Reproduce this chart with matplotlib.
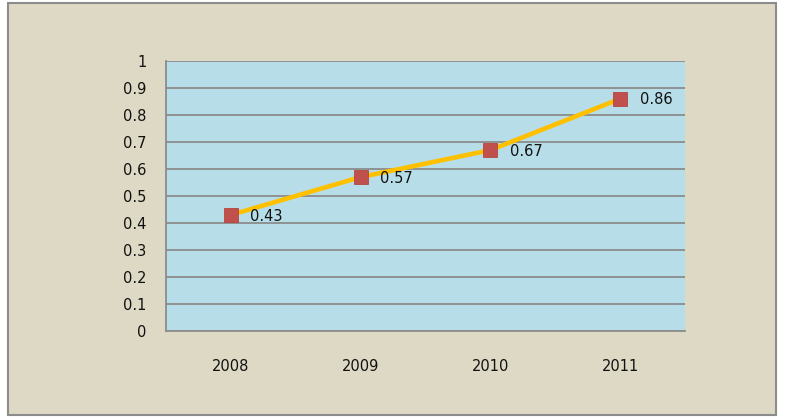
import matplotlib
matplotlib.use("Agg")
import matplotlib.pyplot as plt
from matplotlib.patches import Rectangle

years = ["2008", "2009", "2010", "2011"]
values = [0.43, 0.57, 0.67, 0.86]
yticks = [0, 0.1, 0.2, 0.3, 0.4, 0.5, 0.6, 0.7, 0.8, 0.9, 1]
ytick_labels = ["0", "0.1", "0.2", "0.3", "0.4", "0.5", "0.6", "0.7", "0.8", "0.9", "1"]

W, H = 790, 420
fig = plt.figure(figsize=(W / 100, H / 100), dpi=100)
fig.patch.set_facecolor("white")

FONT = "DejaVu Sans"
FS = 10.5

# chart frame
frame = Rectangle((8 / W, 5 / H), (776 - 8) / W, (417 - 5) / H,
                  transform=fig.transFigure, facecolor="#DDD9C4",
                  edgecolor="#8C8C8C", linewidth=1.5, zorder=-10)
fig.patches.append(frame)

ax = fig.add_axes([166 / W, (H - 331) / H, (685 - 166) / W, (331 - 61) / H])
ax.set_zorder(1)
ax.set_facecolor("#B7DEE8")

x = list(range(len(years)))
ax.plot(x, values, color="#FFC000", linewidth=3.3, zorder=3, solid_capstyle="round")
ax.plot(x, values, linestyle="none", marker="s", markersize=10,
        markerfacecolor="#C0504D", markeredgecolor="#B5453F", markeredgewidth=0.6, zorder=4)
for xi, v in zip(x, values):
    ax.annotate(f"{v:.2f}", (xi, v), xytext=(14, -0.8), textcoords="offset points",
                ha="left", va="center", fontsize=FS, color="#111111",
                family=FONT, zorder=5)

ax.set_xlim(-0.5, len(years) - 0.5)
ax.set_ylim(0, 1)
ax.set_yticks(yticks)
ax.set_yticklabels(ytick_labels, family=FONT, fontsize=FS, color="#111111")
ax.set_xticks(x)
ax.set_xticklabels(years, family=FONT, fontsize=FS, color="#111111")
ax.tick_params(axis="both", length=0)
ax.tick_params(axis="y", pad=14)
ax.tick_params(axis="x", pad=20)
ax.yaxis.grid(True, color="#8C8C8C", linewidth=1.3)
ax.set_axisbelow(True)
for s in ["top", "right"]:
    ax.spines[s].set_visible(False)
for s in ["left", "bottom"]:
    ax.spines[s].set_color("#8C8C8C")
    ax.spines[s].set_linewidth(1.3)

fig.savefig("out.png", dpi=100)
